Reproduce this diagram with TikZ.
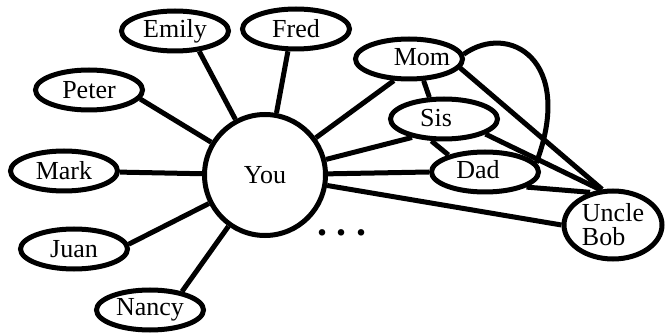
\documentclass[tikz,border=0pt]{standalone}
\usepackage{fontspec}
\setmainfont{Liberation Serif}
\usetikzlibrary{shapes.geometric}
\newcommand\offsettext[3]{\makebox[0pt][l]{\hspace{#1}\makebox[0pt]{\raisebox{#2}{#3}}}}
\tikzset{
  person/.style={ellipse, draw, line width=5pt, fill=white, inner sep=0pt,
    minimum width=107pt, minimum height=40pt, font=\fontsize{26}{24}\selectfont},
  hub/.style={circle, draw, line width=5pt, fill=white, inner sep=0pt,
    minimum size=121pt, font=\fontsize{26}{24}\selectfont},
  link/.style={line width=5pt},
}
\begin{document}
\begin{tikzpicture}[x=1pt,y=-1pt]
\useasboundingbox (0,0) rectangle (665,334);
\node[hub] (you) at (265,175) {You};
\node[person] (emily) at (175,31) {Emily};
\node[person] (fred) at (296,29) {Fred};
\node[person] (peter) at (89,90) {Peter};
\node[person] (mark) at (64,171) {Mark};
\node[person] (juan) at (74,249) {Juan};
\node[person] (nancy) at (150,310) {Nancy};
\node[person] (mom) at (409,59) {\offsettext{13pt}{5pt}{Mom}};
\node[person] (sis) at (444,119) {\offsettext{-8pt}{2pt}{Sis}};
\node[person] (dad) at (485,172) {\offsettext{-7pt}{5pt}{Dad}};
\node[person, minimum width=98pt, minimum height=68pt, align=left] (bob) at (613,225) {Uncle\\Bob};
\node[font=\fontsize{40}{40}\selectfont\bfseries, inner sep=0pt, anchor=base] (dots) at (342,236) {.\hspace{9.5pt}.\hspace{9.5pt}.};
\draw[link] (you) -- (emily.-40);
\draw[link] (you) -- (fred.-110);
\draw[link] (you) -- (peter.-10);
\draw[link] (you) -- (mark);
\draw[link] (you) -- (juan.5);
\draw[link] (you) -- (nancy.30);
\draw[link] (you) -- (mom.-125);
\draw[link] (you) -- (sis.-150);
\draw[link] (you) -- (dad.west);
\draw[link] (you) -- (bob.west);
\draw[link] (mom.-56) -- (sis.124);
\draw[link] (sis.-120) -- (dad.155);
\draw[link] (mom.-10) -- (bob.107);
\draw[link] (sis.-20) -- (bob.110);
\draw[link] (dad.-20) -- (bob.125);
\draw[link] (mom.5) .. controls (509,22) and (575,60) .. (dad.10);
\end{tikzpicture}
\end{document}
